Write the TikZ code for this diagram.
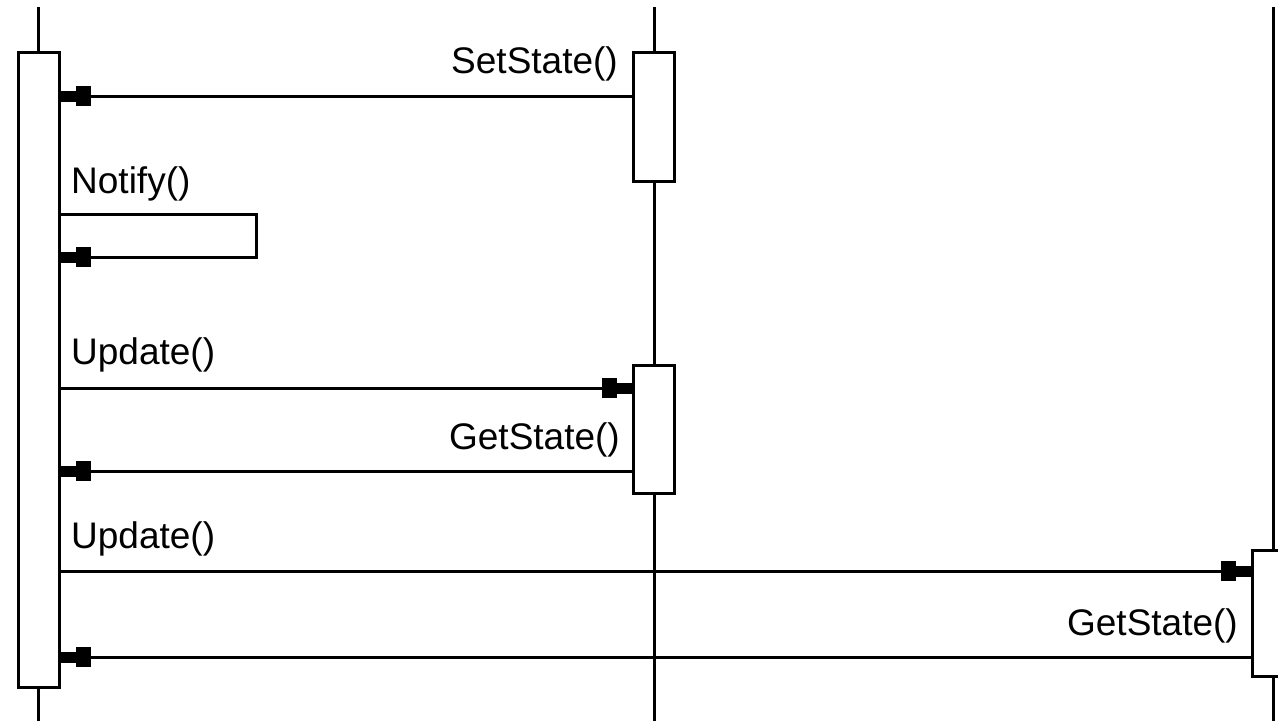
\documentclass[tikz,border=0pt]{standalone}
\usepackage{fontspec}
\setmainfont{Liberation Sans}
\usetikzlibrary{arrows.meta}
\begin{document}
\begin{tikzpicture}[x=1pt,y=-1pt,
  ln/.style={line width=3pt},
  actbox/.style={draw,line width=3pt,fill=white,rectangle,inner sep=0pt,minimum width=41pt},
  msg/.style={line width=3pt,-{Square[length=15pt,width=20pt,line width=0pt]Square[length=15pt,width=11pt,line width=0pt]}},
  lbl/.style={inner sep=0pt,font=\fontsize{37}{44}\selectfont}]
\useasboundingbox (0,0) rectangle (1278,721);
% lifeline tops / bottoms
\coordinate (Ltop) at (38.5,7);
\coordinate (Lbot) at (38.5,721);
\coordinate (Mtop) at (654,7);
\coordinate (Mbot) at (654,721);
\coordinate (Rtop) at (1273,7);
\coordinate (Rbot) at (1273,721);
\draw[ln] (Ltop) -- (Lbot);
\draw[ln] (Mtop) -- (Mbot);
\draw[ln] (Rtop) -- (Rbot);
% activation boxes
\node[actbox,minimum height=635pt] (A) at (38.5,370) {};
\node[actbox,minimum height=129pt] (M1) at (654,117) {};
\node[actbox,minimum height=128pt] (M2) at (654,429) {};
\node[actbox,minimum height=126pt] (R1) at (1273,613) {};
% message rows
\coordinate (y1) at (0,96);
\coordinate (y3) at (0,388);
\coordinate (y4) at (0,471);
\coordinate (y5) at (0,571);
\coordinate (y6) at (0,657);
\coordinate (n1) at (256,214);
\coordinate (n2) at (256,257);
\draw[msg] (M1.west |- y1) -- (A.east |- y1);
\draw[msg] (A.east |- n1) -- (n1) -- (n2) -- (A.east |- n2);
\draw[msg] (A.east |- y3) -- (M2.west |- y3);
\draw[msg] (M2.west |- y4) -- (A.east |- y4);
\draw[msg] (A.east |- y5) -- (R1.west |- y5);
\draw[msg] (R1.west |- y6) -- (A.east |- y6);
% labels
\node[lbl,anchor=base east] (t1) at (618,73) {SetState()};
\node[lbl,anchor=base west] (t2) at (71,193) {Notify()};
\node[lbl,anchor=base west] (t3) at (71,364) {Update()};
\node[lbl,anchor=base east] (t4) at (620,449) {GetState()};
\node[lbl,anchor=base west] (t5) at (71,548) {Update()};
\node[lbl,anchor=base east] (t6) at (1238,635) {GetState()};
\end{tikzpicture}
\end{document}
